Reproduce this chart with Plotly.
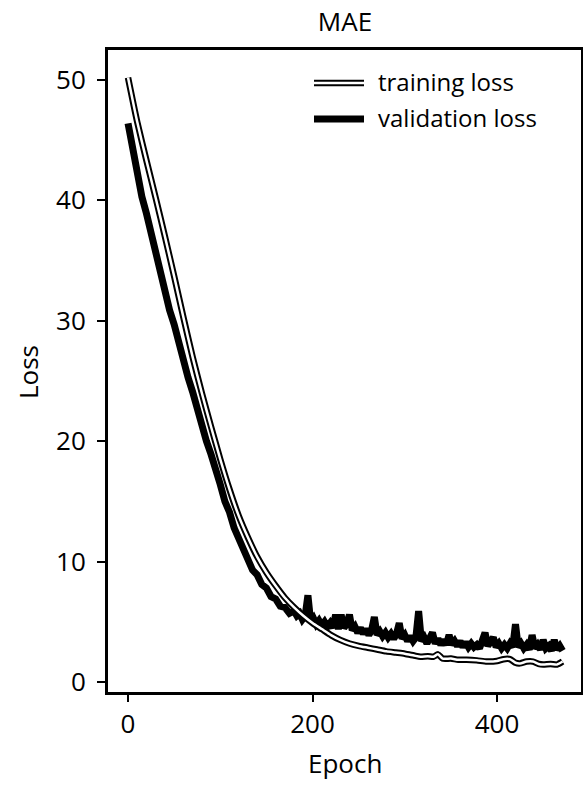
import plotly.graph_objects as go

# ---------------- data ----------------
train_epoch = [0, 10, 20, 30, 40, 50, 60, 70, 80, 90, 100, 110, 120, 130, 140, 150,
               160, 170, 180, 190, 200, 210, 220, 230, 240, 250, 260, 270, 280, 290,
               300, 310, 317, 325, 331, 336, 341, 350, 358, 367, 378, 389, 400, 407,
               414, 420, 425, 432, 439, 445, 450, 458, 465, 471]
train_loss = [50.2, 46.5, 43.3, 40.2, 37.0, 33.7, 30.3, 27.0, 24.0, 21.2, 18.5, 16.0,
              13.8, 12.0, 10.4, 9.1, 8.0, 7.0, 6.2, 5.5, 4.9, 4.4, 3.9, 3.5, 3.2, 3.0,
              2.85, 2.7, 2.55, 2.45, 2.35, 2.2, 2.1, 2.15, 2.1, 2.3, 1.95, 1.95, 1.85,
              1.85, 1.8, 1.7, 1.75, 1.9, 1.9, 1.6, 1.55, 1.7, 1.7, 1.5, 1.45, 1.5, 1.45, 1.7]

val_epoch = list(range(0, 180, 5)) + list(range(180, 472, 3))
val_loss = [46.4, 44.2, 42.4, 40.3, 38.9, 37.2, 35.9, 34.1, 32.7, 30.9, 29.7, 28.1,
            26.9, 25.3, 24.1, 22.6, 21.5, 20.0, 18.9, 17.4, 16.4, 15.0, 14.1, 12.8,
            12.0, 10.9, 10.3, 9.3, 8.9, 8.1, 7.8, 7.1, 6.9, 6.3, 6.2, 5.7,
            # from epoch 180, every 3 epochs
            5.9, 5.5, 5.7, 5.2, 5.5, 7.2, 5.0, 5.3, 4.8, 5.1, 4.7, 5.0, 4.6, 4.9, 4.5,
            5.6, 4.4, 5.6, 4.5, 4.8, 5.6, 4.3, 4.6, 4.1, 4.5, 4.0, 4.4, 3.9, 4.3, 5.4,
            3.9, 4.2, 3.8, 4.1, 3.7, 4.0, 3.6, 4.0, 4.9, 3.6, 3.9, 3.4, 3.8, 3.4, 3.7,
            5.9, 3.4, 3.7, 3.2, 3.6, 4.1, 3.2, 3.6, 3.1, 3.5, 3.1, 3.9, 3.1, 3.4, 3.0,
            3.4, 2.9, 3.3, 2.9, 3.2, 2.9, 3.1, 2.8, 3.3, 4.1, 3.0, 3.3, 3.7, 2.9, 3.2,
            2.8, 3.1, 2.8, 3.2, 2.9, 4.8, 2.9, 3.2, 2.8, 3.1, 2.7, 3.9, 2.8, 3.1, 2.7,
            3.5, 2.8, 3.0, 2.6, 3.5, 2.7, 3.0, 2.6]
val_epoch = val_epoch[:len(val_loss)]

x_ticks = [0, 200, 400]
y_ticks = [0, 10, 20, 30, 40, 50]
title_text = "MAE"
x_title = "Epoch"
y_title = "Loss"
legend_names = ["training loss", "validation loss"]

FONT = "Open Sans"
W, H = 583, 785
L, R, T, B = 107, 582, 49, 693


def px(x):
    return (x - L) / (R - L)


def py(y):
    return (B - y) / (B - T)


fig = go.Figure()
fig.add_trace(go.Scatter(x=val_epoch, y=val_loss, mode="lines",
                         line=dict(color="black", width=7), showlegend=False,
                         name=legend_names[1]))
fig.add_trace(go.Scatter(x=train_epoch, y=train_loss, mode="lines",
                         line=dict(color="black", width=6.5, shape="spline", smoothing=0.6),
                         showlegend=False, name=legend_names[0]))
fig.add_trace(go.Scatter(x=train_epoch, y=train_loss, mode="lines",
                         line=dict(color="white", width=2.5, shape="spline", smoothing=0.6),
                         showlegend=False, hoverinfo="skip"))

shapes = [
    # frame
    dict(type="rect", xref="paper", yref="paper", x0=0, x1=1, y0=0, y1=1,
         line=dict(color="black", width=2), fillcolor="rgba(0,0,0,0)", layer="above"),
    # legend samples
    dict(type="line", xref="paper", yref="paper", x0=px(314), x1=px(364), y0=py(83), y1=py(83),
         line=dict(color="black", width=6.5)),
    dict(type="line", xref="paper", yref="paper", x0=px(314), x1=px(364), y0=py(83), y1=py(83),
         line=dict(color="white", width=2.5)),
    dict(type="line", xref="paper", yref="paper", x0=px(314), x1=px(364), y0=py(119), y1=py(119),
         line=dict(color="black", width=7)),
]
annotations = [
    dict(text=legend_names[0], xref="paper", yref="paper", x=px(376), y=py(82),
         xanchor="left", yanchor="middle", showarrow=False,
         font=dict(family=FONT, size=24, color="black")),
    dict(text=legend_names[1], xref="paper", yref="paper", x=px(376), y=py(118),
         xanchor="left", yanchor="middle", showarrow=False,
         font=dict(family=FONT, size=24, color="black")),
    dict(text=x_title, xref="paper", yref="paper", x=px(345), y=py(763),
         xanchor="center", yanchor="middle", showarrow=False,
         font=dict(family=FONT, size=26, color="black")),
    dict(text=y_title, xref="paper", yref="paper", x=px(28), y=py(372),
         xanchor="center", yanchor="middle", showarrow=False, textangle=-90,
         font=dict(family=FONT, size=26, color="black")),
]

fig.update_layout(
    width=W, height=H,
    margin=dict(l=L, r=W - R, t=T, b=H - B, autoexpand=False),
    paper_bgcolor="white", plot_bgcolor="white",
    title=dict(text=title_text, x=px(345), xref="paper", y=1 - 22 / H, yref="container",
               xanchor="center", yanchor="middle",
               font=dict(family=FONT, size=26, color="black")),
    shapes=shapes, annotations=annotations,
    showlegend=False,
)
fig.update_xaxes(range=[-22.8, 492.1], tickvals=x_ticks, ticks="outside", ticklen=7,
                 tickwidth=2, tickcolor="black", showgrid=False, zeroline=False,
                 showline=True, linecolor="black", linewidth=2, mirror=True,
                 automargin=False,
                 tickfont=dict(family=FONT, size=26, color="black"))
fig.update_yaxes(range=[-0.91, 52.57], tickvals=y_ticks, ticks="outside", ticklen=8,
                 tickwidth=2, tickcolor="black", showgrid=False, zeroline=False,
                 showline=True, linecolor="black", linewidth=2, mirror=True,
                 automargin=False, ticklabelstandoff=6,
                 tickfont=dict(family=FONT, size=26, color="black"))

fig.write_html("out.html",
               config={"displayModeBar": False, "staticPlot": True},
               post_script="document.body.style.margin='0';document.body.style.overflow='hidden';")
